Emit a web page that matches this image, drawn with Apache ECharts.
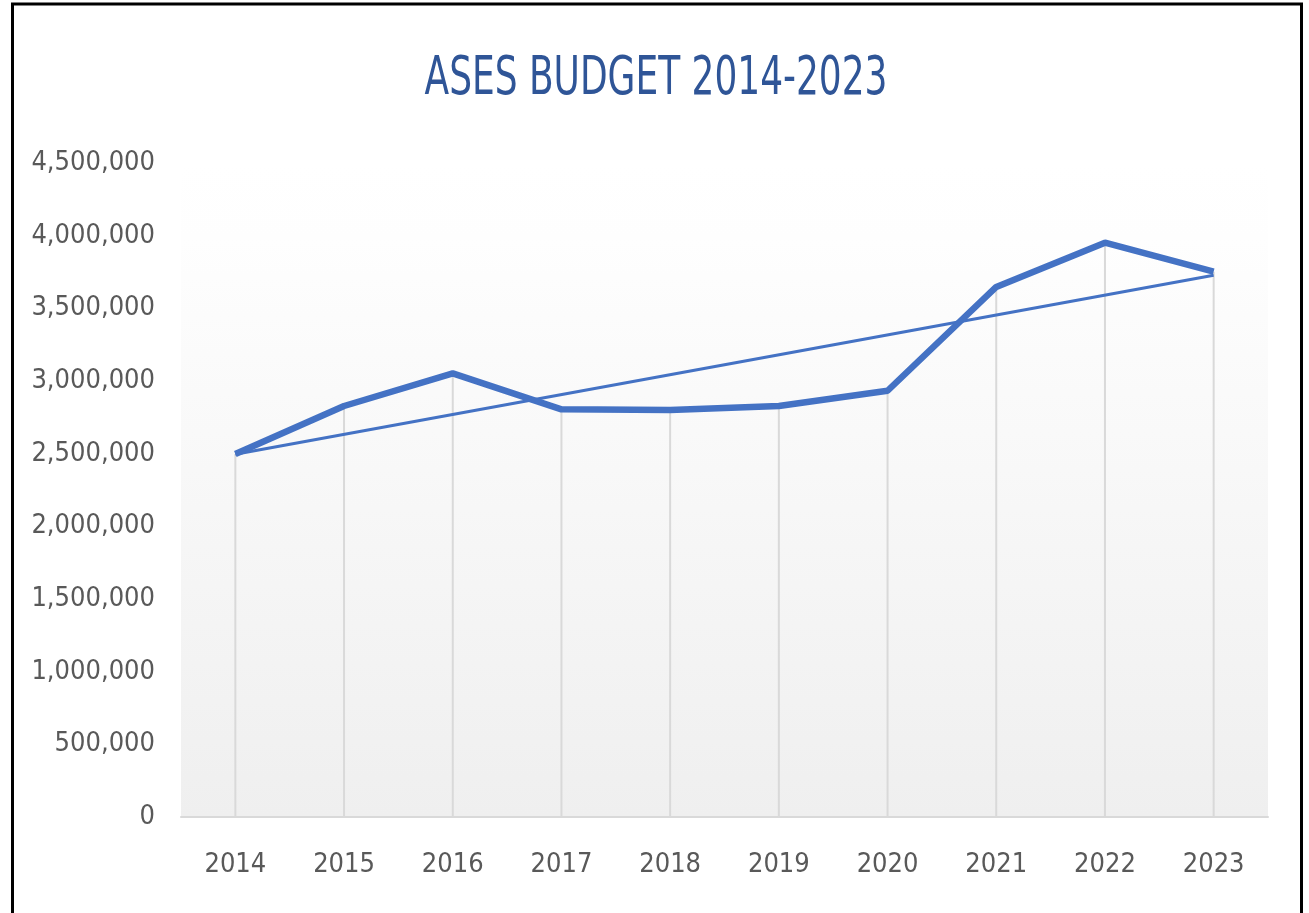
<!DOCTYPE html>
<html>
<head>
<meta charset="utf-8">
<script src="https://cdn.jsdelivr.net/npm/echarts@6/dist/echarts.min.js"></script>
<style>
html,body{margin:0;padding:0;background:#fff;}
#chart{width:1309px;height:913px;}
</style>
</head>
<body>
<div id="chart"></div>
<script>
const years = ['2014','2015','2016','2017','2018','2019','2020','2021','2022','2023'];
const budget = [2498000, 2828000, 3053000, 2805000, 2800000, 2828000, 2933000, 3647000, 3952000, 3752000];
const trendYears = ['2014','2023'];
const trendValues = [2496000, 3728000];
const yTicks = {min: 0, max: 4500000, interval: 500000};
const titleText = 'ASES BUDGET 2014-2023';

const FONT = '"DejaVu Sans Condensed","Liberation Sans Narrow",sans-serif';
const chart = echarts.init(document.getElementById('chart'));
chart.setOption({
  animation: false,
  backgroundColor: '#fff',
  graphic: [
    {
      type: 'text',
      x: 656, y: 80,
      scaleX: 0.74,
      style: {
        text: titleText,
        fill: '#2F5597',
        font: 'normal 54px "DejaVu Sans Condensed", sans-serif',
        align: 'center',
        verticalAlign: 'middle'
      }
    },
    {
      type: 'rect',
      z: 100,
      shape: {x: 12.5, y: 4, width: 1289, height: 940},
      style: {fill: 'none', stroke: '#000', lineWidth: 3}
    }
  ],
  grid: {
    left: 181, right: 41, top: 163, bottom: 96,
    show: true,
    borderWidth: 0,
    backgroundColor: new echarts.graphic.LinearGradient(0, 0, 0, 1, [
      {offset: 0, color: '#ffffff'},
      {offset: 0.115, color: '#fefefe'},
      {offset: 1, color: '#efefef'}
    ])
  },
  xAxis: {
    type: 'category',
    data: years,
    boundaryGap: true,
    axisLine: {show: true, lineStyle: {color: '#d9d9d9', width: 2}},
    axisTick: {show: false},
    axisLabel: {color: '#595959', fontSize: 27, fontFamily: FONT, margin: 34},
    splitLine: {show: false}
  },
  yAxis: {
    type: 'value',
    min: yTicks.min, max: yTicks.max, interval: yTicks.interval,
    axisLine: {show: false},
    axisTick: {show: false},
    splitLine: {show: false},
    axisLabel: {
      color: '#595959', fontSize: 27, fontFamily: FONT, margin: 26,
      formatter: v => v.toLocaleString('en-US')
    }
  },
  series: [
    {
      type: 'bar',
      data: budget,
      barWidth: 2,
      itemStyle: {color: '#d9d9d9'},
      z: 1,
      silent: true
    },
    {
      type: 'line',
      data: budget,
      symbol: 'none',
      lineStyle: {color: '#4472C4', width: 6.5},
      z: 3
    },
    {
      type: 'line',
      data: trendYears.map((y, i) => [y, trendValues[i]]),
      symbol: 'none',
      lineStyle: {color: '#4472C4', width: 3},
      z: 2
    }
  ]
});
</script>
</body>
</html>
